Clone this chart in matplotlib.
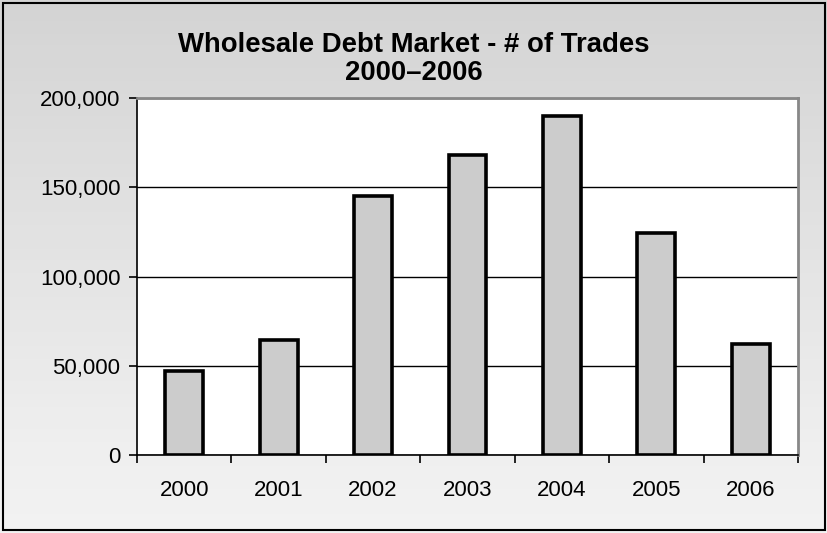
import numpy as np
import matplotlib
matplotlib.use("Agg")
import matplotlib.pyplot as plt
from matplotlib.ticker import FuncFormatter

# data
years = ["2000", "2001", "2002", "2003", "2004", "2005", "2006"]
trades = [47000, 64500, 145000, 168000, 190000, 124500, 62000]

plt.rcParams["font.family"] = ["Liberation Sans", "DejaVu Sans"]

fig = plt.figure(figsize=(8.27, 5.33), dpi=100)

# gradient background
bg = fig.add_axes([0, 0, 1, 1], zorder=0)
grad = np.linspace(0, 1, 256).reshape(-1, 1)
bg.imshow(grad, aspect="auto", cmap="Greys_r", vmin=-4.2, vmax=1.6,
          extent=[0, 1, 0, 1], origin="upper")
bg.set_xlim(0, 1)
bg.set_ylim(0, 1)
bg.axis("off")
bg.add_patch(plt.Rectangle((0.004, 0.006), 0.993, 0.988, fill=False,
                           edgecolor="black", linewidth=1.5))

ax = fig.add_axes([137 / 827, (533 - 455) / 533, (798 - 137) / 827, (455 - 98) / 533], zorder=1)
ax.set_facecolor("white")

x = np.arange(len(years))
ax.bar(x, trades, width=0.4, color="#cccccc", edgecolor="black", linewidth=2.6, zorder=3)

ax.set_xlim(-0.5, len(years) - 0.5)
ax.set_ylim(0, 200000)
ax.set_yticks([0, 50000, 100000, 150000, 200000])
ax.yaxis.set_major_formatter(FuncFormatter(lambda v, p: f"{int(v):,}"))
ax.yaxis.grid(True, color="black", linewidth=1)
ax.set_axisbelow(True)

ax.set_xticks(x)
ax.set_xticklabels(years)
ax.set_xticks(np.arange(-0.5, len(years)), minor=True)
ax.tick_params(axis="x", which="major", length=0, pad=18, labelsize=16)
ax.tick_params(axis="x", which="minor", length=6, width=1.2, direction="out")
ax.tick_params(axis="y", length=6, width=1.2, labelsize=16, pad=6)

for s in ["top", "right"]:
    ax.spines[s].set_color("#888888")
    ax.spines[s].set_linewidth(2)
for s in ["left", "bottom"]:
    ax.spines[s].set_color("black")
    ax.spines[s].set_linewidth(1.2)

fig.text(0.5, 1 - 45 / 533, "Wholesale Debt Market - # of Trades", ha="center", va="center",
         fontsize=19.8, fontweight="bold")
fig.text(0.5, 1 - 73 / 533, "2000\u20132006", ha="center", va="center",
         fontsize=19.8, fontweight="bold")

fig.savefig("out.png", dpi=100)
